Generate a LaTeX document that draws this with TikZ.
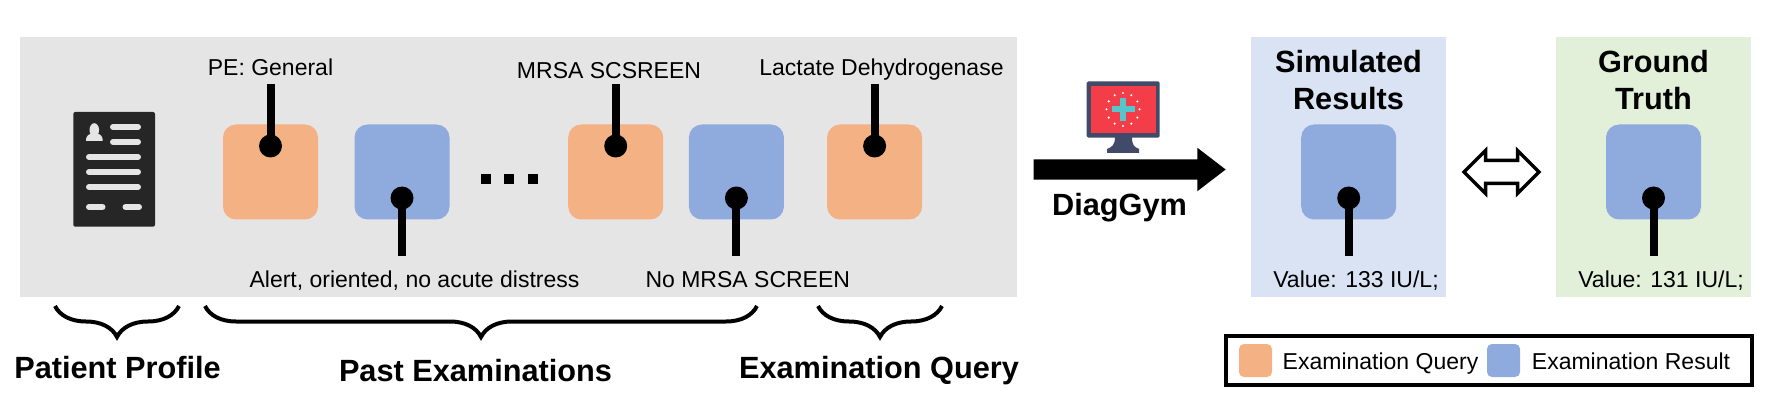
\documentclass[tikz,border=0pt]{standalone}
\usepackage{fontspec}
\setmainfont{Liberation Sans}
\usetikzlibrary{shapes.arrows,decorations.pathreplacing}
\definecolor{queryorange}{HTML}{F4B183}
\definecolor{resultblue}{HTML}{8FAADC}
\definecolor{pastgrey}{HTML}{E5E5E5}
\definecolor{simblue}{HTML}{DAE3F3}
\definecolor{truthgreen}{HTML}{E2F0D9}
\definecolor{docdark}{HTML}{262626}
\definecolor{monframe}{HTML}{414A68}
\definecolor{monscreen}{HTML}{F33E4A}
\definecolor{moncross}{HTML}{55C6CC}
\tikzset{
panel/.style={anchor=north west,inner sep=0pt,outer sep=0pt},
exambox/.style={minimum size=95pt,inner sep=0pt,rounded corners=13pt},
swatch/.style={minimum size=33pt,inner sep=0pt,rounded corners=5pt},
pindot/.style={circle,fill=black,minimum size=23pt,inner sep=0pt},
pinline/.style={line width=8pt},
lbl/.style={anchor=base,inner sep=0pt,font=\fontsize{23}{27}\selectfont},
head/.style={anchor=base,inner sep=0pt,font=\fontsize{30.7}{37}\selectfont\bfseries},
curly/.style={line width=4pt,decorate,decoration={brace,mirror,amplitude=31pt}}
}
\begin{document}
\begin{tikzpicture}[x=1pt,y=-1pt]
\useasboundingbox (0,0) rectangle (1780,406);
% panels
\node[panel,fill=pastgrey,minimum width=997pt,minimum height=260pt] (pastPanel) at (20,37) {};
\node[panel,fill=simblue,minimum width=195pt,minimum height=260pt] (simPanel) at (1251,37) {};
\node[panel,fill=truthgreen,minimum width=195pt,minimum height=260pt] (truthPanel) at (1556,37) {};
% patient document
\fill[docdark,rounded corners=2pt] (73.3,112) rectangle (155,226.7);
\begin{scope}[pastgrey,line width=6pt,line cap=round]
\draw (113,127) -- (138,127);
\draw (113,142) -- (138,142);
\draw (89,157) -- (138,157);
\draw (89,172) -- (138,172);
\draw (89,187) -- (138,187);
\draw (89,207) -- (102.5,207);
\draw (125.5,207) -- (139,207);
\end{scope}
\fill[pastgrey] (94.3,130) ellipse (4.8 and 6.8);
\fill[pastgrey] (86,141) .. controls (86,134) and (90,134) .. (94.3,133) .. controls (99,134) and (102.7,134) .. (102.7,141) -- cycle;
% exam boxes
\node[exambox,fill=queryorange] (queryA) at (270.5,172) {};
\node[exambox,fill=resultblue] (resultA) at (402,172) {};
\node[exambox,fill=queryorange] (queryB) at (615.7,172) {};
\node[exambox,fill=resultblue] (resultB) at (736.4,172) {};
\node[exambox,fill=queryorange] (queryC) at (874.6,172) {};
\node[exambox,fill=resultblue] (resultSim) at (1348.7,172) {};
\node[exambox,fill=resultblue] (resultTruth) at (1653.5,172) {};
% dots between the boxes
\fill (481,174) rectangle (491,184);
\fill (504,174) rectangle (514,184);
\fill (527.5,174) rectangle (537.5,184);
% pins
\node[pindot] (dotA) at (270.5,146) {};
\node[pindot] (dotB) at (402,198) {};
\node[pindot] (dotC) at (615.7,146) {};
\node[pindot] (dotD) at (736.4,198) {};
\node[pindot] (dotE) at (874.6,146) {};
\node[pindot] (dotF) at (1348.7,198) {};
\node[pindot] (dotG) at (1653.5,198) {};
\coordinate (endA) at (270.5,84);
\coordinate (endB) at (402,256);
\coordinate (endC) at (615.7,84);
\coordinate (endD) at (736.4,256);
\coordinate (endE) at (874.6,84);
\coordinate (endF) at (1348.7,256);
\coordinate (endG) at (1653.5,256);
\draw[pinline] (dotA.center) -- (endA);
\draw[pinline] (dotB.center) -- (endB);
\draw[pinline] (dotC.center) -- (endC);
\draw[pinline] (dotD.center) -- (endD);
\draw[pinline] (dotE.center) -- (endE);
\draw[pinline] (dotF.center) -- (endF);
\draw[pinline] (dotG.center) -- (endG);
% labels
\node[lbl] (lblA) at (270.5,76) {PE: General};
\node[lbl] (lblB) at (414.5,287) {Alert, oriented, no acute distress};
\node[lbl] (lblC) at (609,79) {MRSA SCSREEN};
\node[lbl] (lblD) at (747.8,287) {No MRSA SCREEN};
\node[lbl] (lblE) at (881.5,76) {Lactate Dehydrogenase};
\node[lbl] (lblF) at (1356,287) {Value: 133 IU/L;};
\node[lbl] (lblG) at (1661,287) {Value: 131 IU/L;};
% braces
\coordinate (braceA) at (55,306);
\coordinate (braceB) at (179,306);
\coordinate (braceC) at (205,306);
\coordinate (braceD) at (757,306);
\coordinate (braceE) at (818,306);
\coordinate (braceF) at (942,306);
\draw[curly] (braceA) -- (braceB);
\draw[curly] (braceC) -- (braceD);
\draw[curly] (braceE) -- (braceF);
\node[head] (profileLbl) at (117.5,378) {Patient Profile};
\node[head] (pastLbl) at (475.5,381) {Past Examinations};
\node[head] (queryLbl) at (879,378) {Examination Query};
% monitor
\fill[monframe,rounded corners=1.5pt] (1086.7,81.3) rectangle (1159.7,137.7);
\fill[monframe] (1115,137) -- (1132,137) .. controls (1132,145) and (1134,147) .. (1139,149) -- (1139,153) -- (1107,153) -- (1107,149) .. controls (1112,147) and (1115,145) .. (1115,137) -- cycle;
\fill[monscreen] (1091,85.7) rectangle (1155.7,132.7);
\fill[moncross] (1111.7,106.3) rectangle (1135,112.3);
\fill[moncross] (1120,97.7) rectangle (1126,121);
\fill[white] (1123,93) circle (1.2) (1131.3,95.2) circle (1.2) (1137.3,101.4) circle (1.2)
(1139.5,109.3) circle (1.2) (1137.3,117.6) circle (1.2) (1131.3,123.7) circle (1.2)
(1123,126) circle (1.2) (1114.7,123.7) circle (1.2) (1108.7,117.6) circle (1.2)
(1106.5,109.3) circle (1.2) (1108.7,101.4) circle (1.2) (1114.7,95.2) circle (1.2);
% arrows
\node[single arrow,fill=black,inner sep=0pt,outer sep=0pt,minimum height=192pt,minimum width=43pt,
single arrow head extend=11.5pt,single arrow tip angle=75] (simArrow) at (1123,169.5) {\rule{0pt}{20pt}};
\node[head] (gymLbl) at (1119.5,216) {DiagGym};
\node[double arrow,draw=black,line width=3.5pt,fill=white,inner sep=0pt,minimum height=75pt,minimum width=42pt,
double arrow head extend=10pt] (cmpArrow) at (1501.5,172) {\rule{0pt}{19.5pt}};
% panel titles
\node[head] (simTitleA) at (1348.5,73) {Simulated};
\node[head] (simTitleB) at (1348.5,110) {Results};
\node[head] (truthTitleA) at (1653.5,73) {Ground};
\node[head] (truthTitleB) at (1653.5,110) {Truth};
% legend
\node[panel,draw=black,line width=3.3pt,minimum width=526pt,minimum height=49pt] (legendBox) at (1226,336) {};
\node[swatch,fill=queryorange] (swatchQ) at (1255.5,360.5) {};
\node[swatch,fill=resultblue] (swatchR) at (1503.5,360.5) {};
\node[lbl] (legendQ) at (1380.5,369) {Examination Query};
\node[lbl] (legendR) at (1631,369) {Examination Result};
\end{tikzpicture}
\end{document}
